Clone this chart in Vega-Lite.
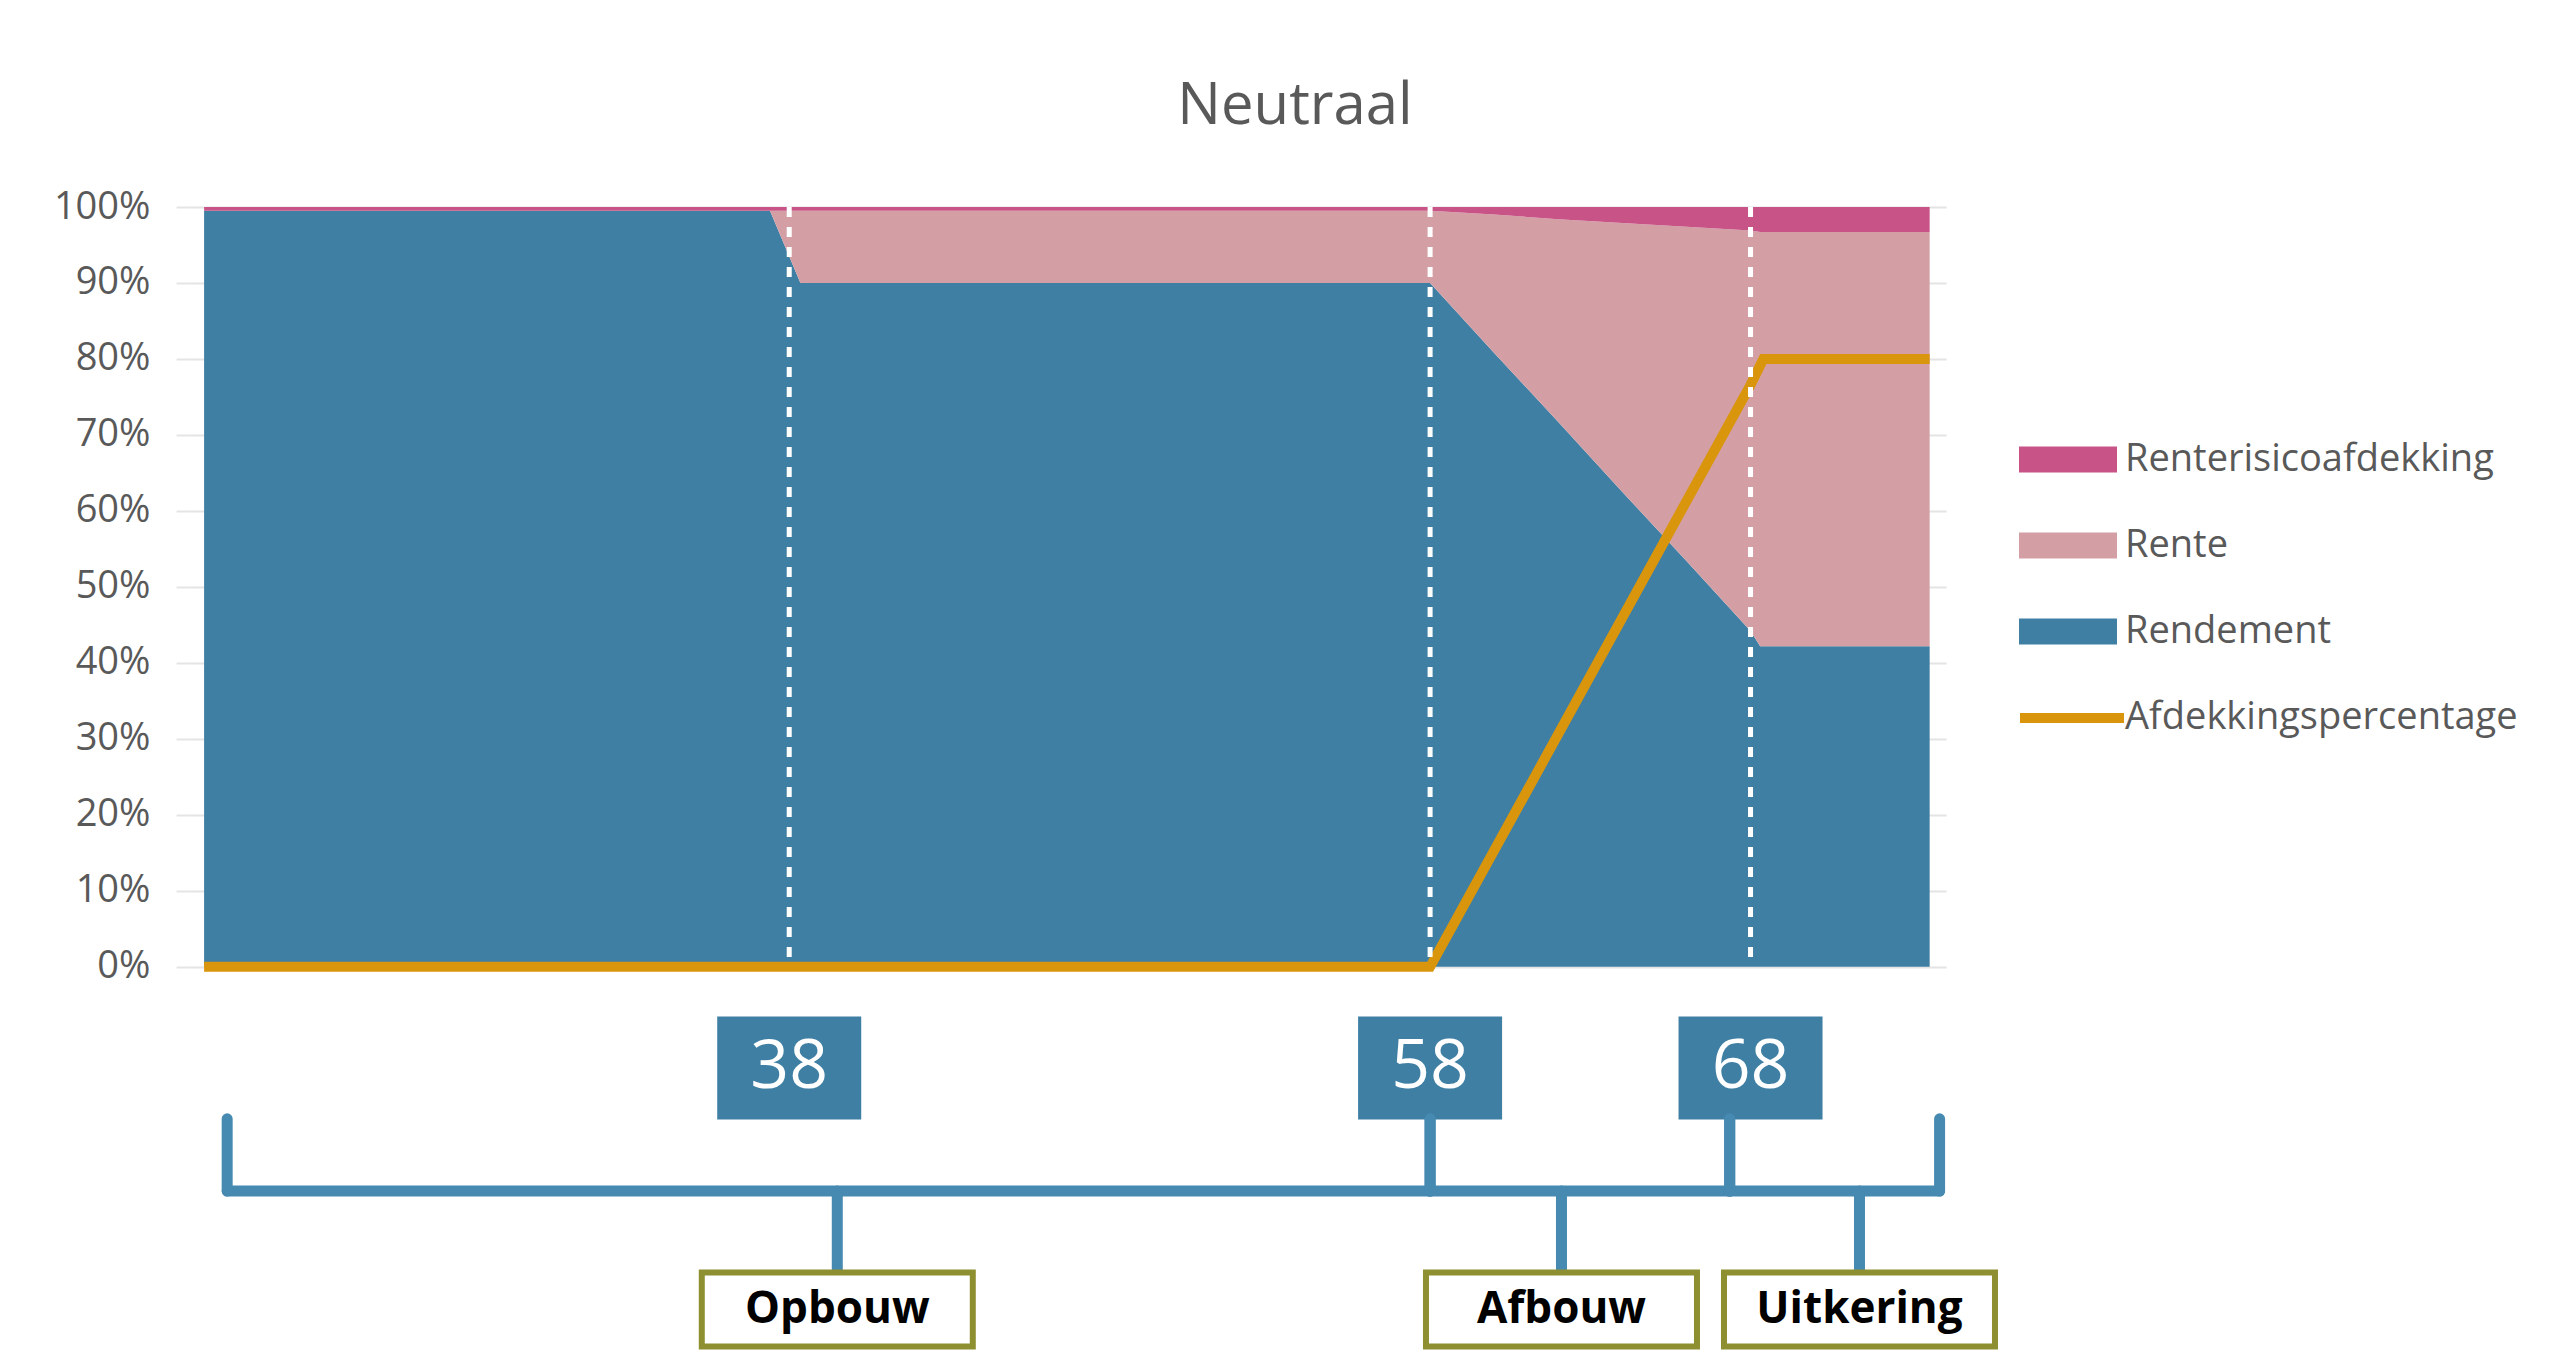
{
  "$schema": "https://vega.github.io/schema/vega-lite/v6.json",
  "width": 1756,
  "height": 1155,
  "autosize": {"type": "none"},
  "padding": {"left": 190, "top": 207, "right": 613, "bottom": 1},
  "background": "white",
  "title": {
    "text": "Neutraal",
    "font": "Open Sans",
    "fontSize": 58,
    "fontWeight": "normal",
    "color": "#595959",
    "anchor": "middle",
    "frame": "group",
    "dx": 227,
    "offset": 6,
    "baseline": "alphabetic"
  },
  "config": {
    "view": {"stroke": null},
    "font": "Open Sans"
  },
  "datasets": {
    "verdeling": [
      {"leeftijd": 19.74, "reeks": "Rendement", "aandeel": 0.995},
      {"leeftijd": 37.4, "reeks": "Rendement", "aandeel": 0.995},
      {"leeftijd": 38.35, "reeks": "Rendement", "aandeel": 0.9},
      {"leeftijd": 58, "reeks": "Rendement", "aandeel": 0.9},
      {"leeftijd": 60, "reeks": "Rendement", "aandeel": 0.808},
      {"leeftijd": 62, "reeks": "Rendement", "aandeel": 0.717},
      {"leeftijd": 64, "reeks": "Rendement", "aandeel": 0.625},
      {"leeftijd": 66, "reeks": "Rendement", "aandeel": 0.534},
      {"leeftijd": 68, "reeks": "Rendement", "aandeel": 0.442},
      {"leeftijd": 68.3, "reeks": "Rendement", "aandeel": 0.422},
      {"leeftijd": 73.59, "reeks": "Rendement", "aandeel": 0.422},
      {"leeftijd": 19.74, "reeks": "Rente", "aandeel": 0},
      {"leeftijd": 37.4, "reeks": "Rente", "aandeel": 0},
      {"leeftijd": 38.35, "reeks": "Rente", "aandeel": 0.095},
      {"leeftijd": 58, "reeks": "Rente", "aandeel": 0.095},
      {"leeftijd": 60, "reeks": "Rente", "aandeel": 0.182},
      {"leeftijd": 62, "reeks": "Rente", "aandeel": 0.267},
      {"leeftijd": 64, "reeks": "Rente", "aandeel": 0.354},
      {"leeftijd": 66, "reeks": "Rente", "aandeel": 0.44},
      {"leeftijd": 68, "reeks": "Rente", "aandeel": 0.527},
      {"leeftijd": 68.3, "reeks": "Rente", "aandeel": 0.545},
      {"leeftijd": 73.59, "reeks": "Rente", "aandeel": 0.545},
      {"leeftijd": 19.74, "reeks": "Renterisicoafdekking", "aandeel": 0.005},
      {"leeftijd": 37.4, "reeks": "Renterisicoafdekking", "aandeel": 0.005},
      {"leeftijd": 38.35, "reeks": "Renterisicoafdekking", "aandeel": 0.005},
      {"leeftijd": 58, "reeks": "Renterisicoafdekking", "aandeel": 0.005},
      {"leeftijd": 60, "reeks": "Renterisicoafdekking", "aandeel": 0.01},
      {"leeftijd": 62, "reeks": "Renterisicoafdekking", "aandeel": 0.016},
      {"leeftijd": 64, "reeks": "Renterisicoafdekking", "aandeel": 0.021},
      {"leeftijd": 66, "reeks": "Renterisicoafdekking", "aandeel": 0.026},
      {"leeftijd": 68, "reeks": "Renterisicoafdekking", "aandeel": 0.031},
      {"leeftijd": 68.3, "reeks": "Renterisicoafdekking", "aandeel": 0.033},
      {"leeftijd": 73.59, "reeks": "Renterisicoafdekking", "aandeel": 0.033}
    ],
    "afdekking": [
      {"leeftijd": 19.74, "reeks": "Afdekkingspercentage", "pct": 0},
      {"leeftijd": 58, "reeks": "Afdekkingspercentage", "pct": 0},
      {"leeftijd": 68, "reeks": "Afdekkingspercentage", "pct": 0.766},
      {"leeftijd": 68.4, "reeks": "Afdekkingspercentage", "pct": 0.8},
      {"leeftijd": 73.59, "reeks": "Afdekkingspercentage", "pct": 0.8}
    ],
    "markers": [
      {"leeftijd": 38, "label": "38"},
      {"leeftijd": 58, "label": "58"},
      {"leeftijd": 68, "label": "68"}
    ],
    "fasen": [
      {"fase": "Opbouw", "van": 20.46, "tot": 58, "midden": 39.5},
      {"fase": "Afbouw", "van": 58, "tot": 67.35, "midden": 62.1},
      {"fase": "Uitkering", "van": 67.35, "tot": 73.9, "midden": 71.4}
    ]
  },
  "layer": [
    {
      "data": {"name": "verdeling"},
      "mark": {"type": "area", "interpolate": "linear", "opacity": 1},
      "encoding": {
        "x": {"field": "leeftijd", "type": "quantitative", "scale": {"domain": [19.3, 74.1], "nice": false, "zero": false}, "axis": null},
        "y": {
          "field": "aandeel", "type": "quantitative", "stack": "zero",
          "scale": {"domain": [-0.52, 1], "nice": false, "zero": false},
          "axis": {
            "title": null,
            "values": [0, 0.1, 0.2, 0.3, 0.4, 0.5, 0.6, 0.7, 0.8, 0.9, 1],
            "format": ".0%",
            "domain": false,
            "grid": true,
            "gridColor": "#e4e4e4",
            "gridWidth": 2,
            "ticks": true,
            "tickSize": 14,
            "tickColor": "#e4e4e4",
            "tickWidth": 2,
            "labelFont": "Open Sans",
            "labelFontSize": 38,
            "labelColor": "#595959",
            "labelPadding": 26
          }
        },
        "color": {
          "field": "reeks", "type": "nominal",
          "scale": {"domain": ["Renterisicoafdekking", "Rente", "Rendement"], "range": ["#c85487", "#d39fa5", "#3e7fa3"]},
          "legend": {
            "title": null,
            "orient": "none",
            "legendX": 1853.5,
            "legendY": 228,
            "padding": 0,
            "symbolType": "M-2,-0.53H2V0.53H-2Z",
            "symbolSize": 2401,
            "symbolOpacity": 1,
            "symbolStrokeWidth": 0,
            "symbolOffset": 0,
            "labelOffset": 32.5,
            "labelLimit": 800,
            "rowPadding": 42,
            "labelFont": "Open Sans",
            "labelFontSize": 38,
            "labelColor": "#595959"
          }
        },
        "order": {"field": "reeks", "sort": "ascending"}
      }
    },
    {
      "data": {"name": "afdekking"},
      "mark": {"type": "line", "strokeWidth": 10, "interpolate": "linear"},
      "encoding": {
        "x": {"field": "leeftijd", "type": "quantitative", "axis": null},
        "y": {"field": "pct", "type": "quantitative", "title": null},
        "stroke": {
          "field": "reeks", "type": "nominal",
          "scale": {"domain": ["Afdekkingspercentage"], "range": ["#d9950c"]},
          "legend": {
            "title": null,
            "orient": "none",
            "legendX": 1851,
            "legendY": 480,
            "padding": 0,
            "symbolType": "M-2,0H2",
            "symbolSize": 2704,
            "symbolStrokeWidth": 10,
            "symbolOffset": 0,
            "labelOffset": 22,
            "labelLimit": 800,
            "labelFont": "Open Sans",
            "labelFontSize": 38,
            "labelColor": "#595959"
          }
        }
      }
    },
    {
      "data": {"name": "markers"},
      "mark": {"type": "rule", "color": "white", "strokeWidth": 5, "strokeDash": [10, 10]},
      "encoding": {
        "x": {"field": "leeftijd", "type": "quantitative", "axis": null},
        "y": {"datum": 1},
        "y2": {"datum": 0.006}
      }
    },
    {
      "data": {"name": "markers"},
      "mark": {"type": "point", "shape": "M-1,-0.715H1V0.715H-1Z", "size": 20736, "filled": true, "color": "#3e7fa3", "opacity": 1, "strokeWidth": 0},
      "encoding": {
        "x": {"field": "leeftijd", "type": "quantitative", "axis": null},
        "y": {"datum": -0.133}
      }
    },
    {
      "data": {"name": "markers"},
      "mark": {"type": "text", "font": "Open Sans", "fontSize": 68, "color": "white", "align": "center", "baseline": "middle"},
      "encoding": {
        "x": {"field": "leeftijd", "type": "quantitative", "axis": null},
        "y": {"datum": -0.133},
        "text": {"field": "label", "type": "nominal"}
      }
    },
    {
      "data": {"name": "fasen"},
      "mark": {"type": "rule", "color": "#4689b1", "strokeWidth": 11, "strokeCap": "round"},
      "encoding": {
        "x": {"field": "van", "type": "quantitative", "axis": null},
        "x2": {"field": "tot"},
        "y": {"datum": -0.295}
      }
    },
    {
      "data": {"name": "fasen"},
      "mark": {"type": "rule", "color": "#4689b1", "strokeWidth": 11, "strokeCap": "round"},
      "encoding": {
        "x": {"field": "van", "type": "quantitative", "axis": null},
        "y": {"datum": -0.2},
        "y2": {"datum": -0.295}
      }
    },
    {
      "data": {"name": "fasen"},
      "mark": {"type": "rule", "color": "#4689b1", "strokeWidth": 11, "strokeCap": "round"},
      "encoding": {
        "x": {"field": "tot", "type": "quantitative", "axis": null},
        "y": {"datum": -0.2},
        "y2": {"datum": -0.295}
      }
    },
    {
      "data": {"name": "fasen"},
      "mark": {"type": "rule", "color": "#4689b1", "strokeWidth": 11, "strokeCap": "round"},
      "encoding": {
        "x": {"field": "midden", "type": "quantitative", "axis": null},
        "y": {"datum": -0.295},
        "y2": {"datum": -0.399}
      }
    },
    {
      "data": {"name": "fasen"},
      "mark": {"type": "point", "shape": "M-1,-0.273H1V0.273H-1Z", "size": 73441, "filled": true, "color": "white", "stroke": "#8e8f30", "strokeWidth": 6, "opacity": 1},
      "encoding": {
        "x": {"field": "midden", "type": "quantitative", "axis": null},
        "y": {"datum": -0.451}
      }
    },
    {
      "data": {"name": "fasen"},
      "mark": {"type": "text", "font": "Open Sans", "fontSize": 44, "fontWeight": "bold", "color": "black", "align": "center", "baseline": "middle"},
      "encoding": {
        "x": {"field": "midden", "type": "quantitative", "axis": null},
        "y": {"datum": -0.451},
        "text": {"field": "fase", "type": "nominal"}
      }
    }
  ]
}
